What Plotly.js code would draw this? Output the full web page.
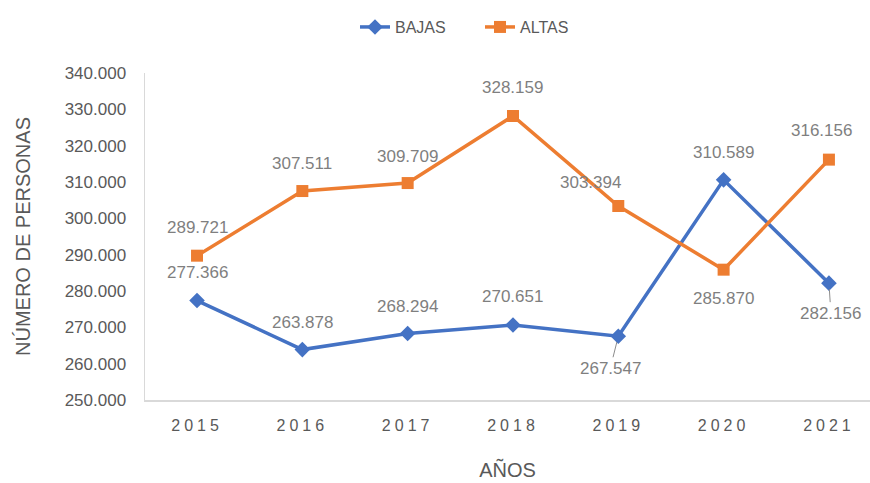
<!DOCTYPE html>
<html>
<head>
<meta charset="utf-8">
<script src="https://cdn.plot.ly/plotly-3.0.1.min.js"></script>
<style>html,body{margin:0;padding:0;background:#fff;}#chart{width:870px;height:483px;}</style>
</head>
<body>
<div id="chart"></div>
<script>
const years = ["2015", "2016", "2017", "2018", "2019", "2020", "2021"];
const bajas = [277366, 263878, 268294, 270651, 267547, 310589, 282156];
const altas = [289721, 307511, 309709, 328159, 303394, 285870, 316156];
const yTicks = [250000, 260000, 270000, 280000, 290000, 300000, 310000, 320000, 330000, 340000];

// label offsets (pixels) relative to each point
const bajasOff = [[0, -28], [0, -27], [0, -27], [0, -28], [-8, 32], [0, -27], [2, 30]];
const altasOff = [[0, -28], [0, -28], [0, -27], [0, -29], [-28, -24], [0, 29], [-7, -29]];
const bajasArrow = [false, false, false, false, true, false, true];

function fmt(v) {
  return v.toString().replace(/\B(?=(\d{3})+(?!\d))/g, ".");
}

const labelFont = {family: "Liberation Sans, Arial, sans-serif", size: 17, color: "#7f7f7f"};
const annotations = [];
years.forEach((yr, i) => {
  if (bajasArrow[i]) {
    annotations.push({x: i, y: bajas[i], xref: "x", yref: "y", text: fmt(bajas[i]),
      showarrow: true, arrowhead: 0, arrowwidth: 1, arrowcolor: "#8c8c8c",
      ax: bajasOff[i][0], ay: bajasOff[i][1], standoff: 6, font: labelFont});
  } else {
    annotations.push({x: i, y: bajas[i], xref: "x", yref: "y", text: fmt(bajas[i]),
      showarrow: false, xshift: bajasOff[i][0], yshift: -bajasOff[i][1], font: labelFont});
  }
  annotations.push({x: i, y: altas[i], xref: "x", yref: "y", text: fmt(altas[i]),
    showarrow: false, xshift: altasOff[i][0], yshift: -altasOff[i][1], font: labelFont});
});

const traces = [
  {x: years, y: bajas, name: "BAJAS", type: "scatter", mode: "lines+markers",
   line: {color: "#4472C4", width: 3.5}, marker: {symbol: "diamond", size: 12, color: "#4472C4"}},
  {x: years, y: altas, name: "ALTAS", type: "scatter", mode: "lines+markers",
   line: {color: "#ED7D31", width: 3.5}, marker: {symbol: "square", size: 12, color: "#ED7D31"}}
];

const layout = {
  width: 870, height: 483,
  margin: {l: 145, r: 0, t: 73, b: 83},
  paper_bgcolor: "#ffffff", plot_bgcolor: "#ffffff",
  separators: ",.",
  font: {family: "Liberation Sans, Arial, sans-serif", color: "#595959"},
  showlegend: true,
  legend: {orientation: "h", xref: "container", yref: "container", x: 355 / 870, y: 0.944,
    xanchor: "left", yanchor: "middle", font: {size: 16, color: "#595959"},
    entrywidth: 80, entrywidthmode: "pixels"},
  xaxis: {type: "category", range: [-0.494, 6.39], showgrid: false, zeroline: false,
    showline: true, linecolor: "#d9d9d9", linewidth: 1.5, ticks: "",
    tickfont: {size: 16, color: "#595959"}, ticklabelstandoff: 10,
    title: {text: "AÑOS", font: {size: 20, color: "#595959"}, standoff: 30}},
  yaxis: {range: [250000, 340000], tickvals: yTicks, tickformat: ",.0f", showgrid: false,
    zeroline: false, showline: true, linecolor: "#d9d9d9", linewidth: 1.5, ticks: "",
    tickfont: {size: 17, color: "#595959"}, ticklabelstandoff: 14,
    title: {text: "NÚMERO DE PERSONAS", font: {size: 20, color: "#595959"}, standoff: 28}},
  annotations: annotations
};

Plotly.newPlot("chart", traces, layout, {displayModeBar: false, staticPlot: true}).then(() => {
  document.querySelectorAll(".xtick text").forEach(t => { t.style.letterSpacing = "4px"; });
});
</script>
</body>
</html>
